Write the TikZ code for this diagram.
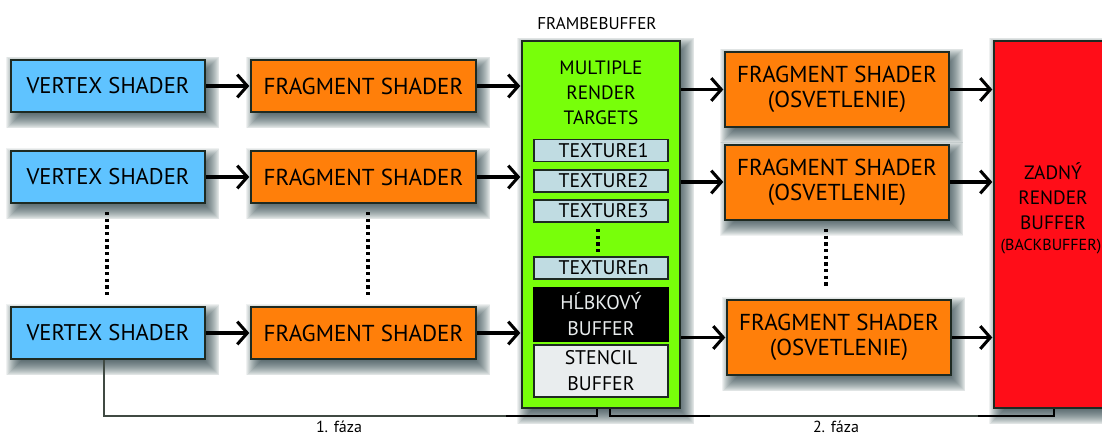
\documentclass[tikz,border=0pt]{standalone}
\usepackage{fontspec}
\setmainfont{PT Sans}
\usetikzlibrary{arrows.meta,calc,backgrounds}
\definecolor{vblue}{HTML}{5FC3FF}
\definecolor{forange}{HTML}{FF7F0A}
\definecolor{fbgreen}{HTML}{78FF0A}
\definecolor{bred}{HTML}{FF0D18}
\definecolor{texblue}{HTML}{C0DCE2}
\definecolor{stgrey}{HTML}{E9EDEE}
\definecolor{edge}{HTML}{1E2A22}
\definecolor{shade}{HTML}{1C3438}
\newcommand{\softshadow}[1]{%
  \foreach \sc/\se/\sa/\sb in {12.5/14.5/-3.5/-1.5,11.5/13.5/-2.5/-0.5,10.5/12.5/-1.5/0.5,9.5/11.5/-0.5/1.5,8.5/10.5/0.5/2.5,7.5/9.5/1.5/3.5,6.5/8.5/2.5/4.5,5.5/7.5/3.5/5.5,4.5/6.5/4.5/6.5,3.5/5.5/5.5/7.5,2.5/4.5/6.5/8.5,1.5/3.5/7.5/9.5,0.5/2.5/8.5/10.5,-0.5/1.5/9.5/11.5,-1.5/0.5/10.5/12.5,-2.5/-0.5/11.5/13.5,-3.5/-1.5/12.5/14.5}{%
    \draw[softlayer,line width=0.4pt] ($(#1.north west)+(\sc,\se)$) rectangle ($(#1.south east)+(\sa,\sb)$);
  }%
}
\tikzset{
  x=0.75pt,y=-0.75pt,
  softlayer/.style={draw=shade,fill=shade,draw opacity=0.065,fill opacity=0.065,line join=round},
  boxsize/.style 2 args={minimum width=#1*0.75pt,minimum height=#2*0.75pt},
  mainbox/.style={draw=edge,line width=1.5pt,inner sep=0pt,align=center,font=\fontsize{17.3}{21}\selectfont},
  vertexbox/.style={mainbox,fill=vblue,boxsize={194}{52},font=\fontsize{17}{21}\selectfont},
  inbox/.style={draw=edge,line width=1.4pt,inner sep=0pt,align=center,font=\fontsize{14.8}{19.5}\selectfont,boxsize={134}{22}},
  flow/.style={line width=2.3pt,-{Straight Barb[length=7.5pt,width=17pt,line width=2.3pt]},shorten >=0.5pt},
  rail/.style={line width=1pt,draw=edge!85!white},
  railthick/.style={line width=1.6pt,draw=black},
  vdots/.style={line width=2.4pt,dash pattern=on 2.4pt off 2.6pt},
  smalltext/.style={inner sep=0pt,font=\fontsize{12.8}{14}\selectfont},
  boxlabel/.style={inner sep=0pt,align=center,font=\fontsize{14.5}{18.7}\selectfont},
}
\begin{document}
\begin{tikzpicture}
\useasboundingbox (0,0) rectangle (1102,435);
% vertex shaders
\node[vertexbox] (v1) at (108,86) {VERTEX SHADER};
\node[vertexbox] (v2) at (108,177) {VERTEX SHADER};
\node[vertexbox] (v3) at (108,333) {VERTEX SHADER};
% fragment shaders
\node[mainbox,fill=forange,boxsize={225}{52}] (f1) at (363.5,86) {FRAGMENT SHADER};
\node[mainbox,fill=forange,boxsize={225}{52}] (f2) at (363.5,177) {FRAGMENT SHADER};
\node[mainbox,fill=forange,boxsize={225}{52}] (f3) at (363.5,333) {FRAGMENT SHADER};
% lighting
\node[mainbox,fill=forange,boxsize={224}{75}] (l1) at (837,89.5) {\raisebox{-1pt}{\shortstack{FRAGMENT SHADER\\[3pt](OSVETLENIE)}}};
\node[mainbox,fill=forange,boxsize={224}{75}] (l2) at (837,182) {\raisebox{-1pt}{\shortstack{FRAGMENT SHADER\\[3pt](OSVETLENIE)}}};
\node[mainbox,fill=forange,boxsize={224}{75}] (l3) at (839,337.5) {\raisebox{-1pt}{\shortstack{FRAGMENT SHADER\\[3pt](OSVETLENIE)}}};
% framebuffer
\node[mainbox,fill=fbgreen,boxsize={158}{367}] (fb) at (601,224.5) {};
\node[boxlabel] (mrt) at (601,93) {MULTIPLE\\RENDER\\TARGETS};
\node[inbox,fill=texblue] (t1) at (601,150.5) {\hspace{4pt}TEXTURE1};
\node[inbox,fill=texblue] (t2) at (601,181) {\hspace{4pt}TEXTURE2};
\node[inbox,fill=texblue] (t3) at (601,211) {\hspace{4pt}TEXTURE3};
\node[inbox,fill=texblue] (tn) at (601,268) {\hspace{4pt}TEXTUREn};
\node[inbox,fill=black,draw=black,text=stgrey,boxsize={134}{53}] (dep) at (601,314.5) {HĹBKOVÝ\\BUFFER};
\node[inbox,fill=stgrey,boxsize={134}{52}] (sten) at (601,371) {STENCIL\\BUFFER};
\node[smalltext] (fbcap) at (597,24) {FRAMBEBUFFER};
% back buffer
\node[mainbox,fill=bred,boxsize={118}{367}] (back) at (1053,224.5) {};
\node[boxlabel] (backlab) at (1051,208) {\hspace{3pt}ZADNÝ\\\hspace{3pt}RENDER\\\hspace{3pt}BUFFER\\[-3pt]{\fontsize{12}{14}\selectfont (BACKBUFFER)}};
% soft shadows, behind everything
\begin{scope}[on background layer]
\fill[white] (0,0) rectangle (1102,435);
\clip (0,0) rectangle (1102,435);
\softshadow{v1}\softshadow{v2}\softshadow{v3}
\softshadow{f1}\softshadow{f2}\softshadow{f3}
\softshadow{l1}\softshadow{l2}\softshadow{l3}
\softshadow{fb}\softshadow{back}
\end{scope}
% arrows
\draw[flow] (v1) -- (f1);
\draw[flow] (v2) -- (f2);
\draw[flow] (v3) -- (f3);
\draw[flow] (f1) -- (f1 -| fb.west);
\draw[flow] (f2) -- (f2 -| fb.west);
\draw[flow] (f3) -- (f3 -| fb.west);
\draw[flow] (fb.east |- l1) -- (l1);
\draw[flow] (fb.east |- l2) -- (l2);
\draw[flow] (fb.east |- l3) -- (l3);
\draw[flow] (l1) -- (l1 -| back.west);
\draw[flow] (l2) -- (l2 -| back.west);
\draw[flow] (l3) -- (l3 -| back.west);
% dots
\coordinate (d1a) at (107,212); \coordinate (d1b) at (107,297);
\coordinate (d2a) at (368,212); \coordinate (d2b) at (368,295);
\coordinate (d3a) at (826,229); \coordinate (d3b) at (826,288);
\coordinate (d4a) at (598,229); \coordinate (d4b) at (598,252);
\draw[vdots] (d1a) -- (d1b);
\draw[vdots] (d2a) -- (d2b);
\draw[vdots] (d3a) -- (d3b);
\draw[vdots] (d4a) -- (d4b);
% phase rails
\coordinate (r1) at (104,416); \coordinate (r2) at (597,416);
\coordinate (r3) at (610,416); \coordinate (r4) at (1054,416);
\coordinate (r1t) at (506,416); \coordinate (r3t) at (710,416); \coordinate (r4t) at (978,416);
\draw[rail] (v3.south -| r1) -- (r1) -- (r2);
\draw[rail] (r3) -- (r4);
\draw[railthick] (r1t) -- (r2) -- (r2 |- fb.south);
\draw[railthick] (r3t) -- (r3) -- (r3 |- fb.south);
\draw[railthick] (r4t) -- (r4) -- (r4 |- back.south);
\node[smalltext,font=\fontsize{12}{14}\selectfont] (p1) at (339,426.5) {1. fáza};
\node[smalltext,font=\fontsize{12}{14}\selectfont] (p2) at (836,426.5) {2. fáza};
\end{tikzpicture}
\end{document}
